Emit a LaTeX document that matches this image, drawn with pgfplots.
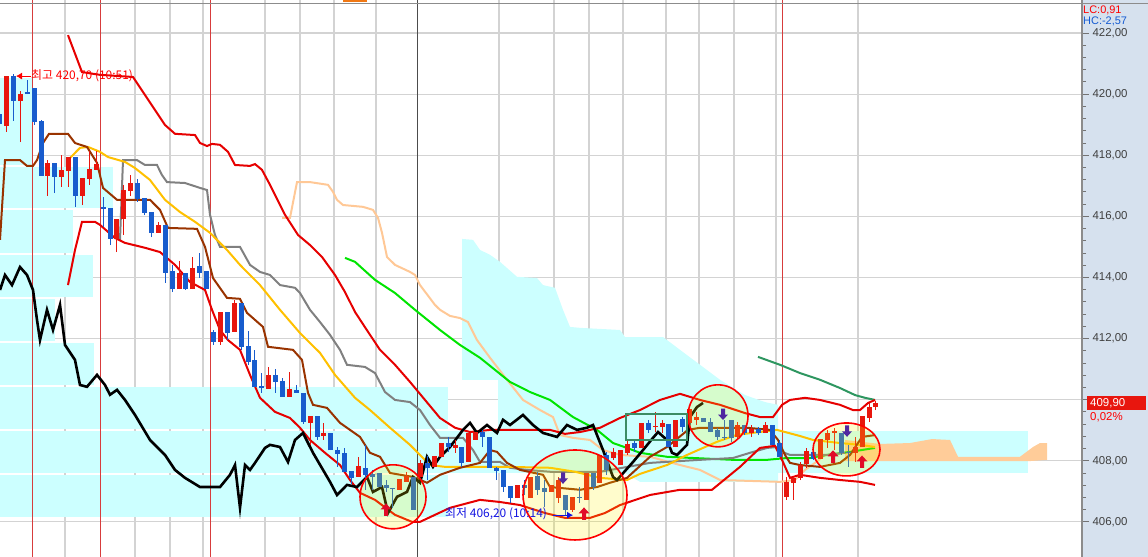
\documentclass[border=0pt]{standalone}
\usepackage{pgfplots}
\pgfplotsset{compat=1.18}
\usepackage{pgfplotstable}
\usepackage{fontspec}
\setmainfont{Liberation Sans}
\newfontfamily\kr{Noto Sans CJK KR}
\usetikzlibrary{arrows.meta}

\definecolor{candr}{RGB}{232,22,14}
\definecolor{candb}{RGB}{24,92,205}
\definecolor{bbred}{RGB}{230,0,0}
\definecolor{brownl}{RGB}{153,51,0}
\definecolor{yel}{RGB}{255,192,0}
\definecolor{grayl}{RGB}{128,128,128}
\definecolor{grn}{RGB}{0,228,0}
\definecolor{peach}{RGB}{255,200,150}
\definecolor{dkgreen}{RGB}{46,150,96}
\definecolor{cyanbox}{RGB}{204,255,255}
\definecolor{cloudor}{RGB}{255,204,153}
\definecolor{panel}{RGB}{214,225,238}
\definecolor{gridc}{RGB}{211,211,211}
\definecolor{purp}{RGB}{80,40,160}
\definecolor{boxg}{RGB}{60,140,100}
\definecolor{vred}{RGB}{215,60,60}
\definecolor{arrred}{RGB}{225,10,40}
\definecolor{lowblue}{RGB}{20,20,225}
\definecolor{hcblue}{RGB}{20,90,210}
\definecolor{topor}{RGB}{240,120,20}

\pgfdeclareplotmark{uparr}{%
  \pgfpathmoveto{\pgfpoint{0bp}{6.5bp}}%
  \pgfpathlineto{\pgfpoint{5.5bp}{0.5bp}}%
  \pgfpathlineto{\pgfpoint{2bp}{0.5bp}}%
  \pgfpathlineto{\pgfpoint{2bp}{-6bp}}%
  \pgfpathlineto{\pgfpoint{-2bp}{-6bp}}%
  \pgfpathlineto{\pgfpoint{-2bp}{0.5bp}}%
  \pgfpathlineto{\pgfpoint{-5.5bp}{0.5bp}}%
  \pgfpathclose\pgfusepathqfill}
\pgfdeclareplotmark{dnarr}{%
  \pgfpathmoveto{\pgfpoint{0bp}{-6bp}}%
  \pgfpathlineto{\pgfpoint{5bp}{-0.5bp}}%
  \pgfpathlineto{\pgfpoint{2bp}{-0.5bp}}%
  \pgfpathlineto{\pgfpoint{2bp}{5.5bp}}%
  \pgfpathlineto{\pgfpoint{-2bp}{5.5bp}}%
  \pgfpathlineto{\pgfpoint{-2bp}{-0.5bp}}%
  \pgfpathlineto{\pgfpoint{-5bp}{-0.5bp}}%
  \pgfpathclose\pgfusepathqfill}

% up (red) candles: k open high low close
\pgfplotstableread{
k o h l c
1 418.96 420.59 418.76 420.59
3 419.77 420.10 418.43 420.00
7 417.32 417.84 416.67 417.75
9 417.29 418.01 416.96 417.52
10 417.48 417.94 416.96 417.94
12 416.67 417.26 416.37 417.26
13 417.22 418.14 417.03 417.55
14 417.52 418.14 417.52 417.71
17 415.26 415.91 414.83 415.91
18 415.91 417.03 415.39 416.86
19 416.83 417.35 416.67 417.09
23 415.46 415.82 415.46 415.72
26 413.62 414.54 413.62 414.15
28 413.62 414.67 413.62 414.31
32 411.89 412.87 411.79 412.87
34 412.22 413.26 412.22 413.17
39 410.35 411.07 410.35 410.81
42 410.09 410.91 410.09 410.35
45 409.24 409.47 408.52 409.47
47 408.81 409.24 408.68 408.91
52 407.47 408.13 407.47 407.83
58 407.05 407.41 407.05 407.41
59 407.31 407.63 407.31 407.50
61 407.47 408.03 407.47 407.93
63 407.80 408.16 407.80 408.16
64 408.13 408.58 408.13 408.58
66 408.42 408.68 408.26 408.52
68 407.96 408.91 407.96 408.91
69 408.68 408.94 408.68 408.94
75 406.78 407.21 406.78 407.21
77 406.78 407.47 406.78 407.47
80 406.98 407.21 406.98 407.21
81 406.78 407.47 406.62 407.37
83 406.39 406.82 406.33 406.82
85 406.72 407.60 406.72 407.60
87 407.28 408.19 407.28 408.19
89 408.09 408.42 408.03 408.29
90 407.86 408.35 407.86 408.35
91 408.26 408.68 408.20 408.55
93 408.42 409.24 408.42 409.24
95 409.11 409.60 408.94 409.14
96 409.11 409.34 408.91 409.24
98 408.45 409.34 408.45 409.34
100 409.24 409.70 409.24 409.70
101 409.34 409.60 409.17 409.44
107 408.78 409.27 408.68 409.17
109 408.91 409.17 408.78 409.04
111 408.91 409.27 408.91 409.17
114 406.82 407.47 406.72 407.31
115 407.28 407.47 406.72 407.44
116 407.44 407.96 407.37 407.86
117 407.90 408.42 407.77 408.32
119 408.06 408.71 408.06 408.71
120 408.68 409.01 408.42 408.91
121 408.91 409.08 408.35 408.98
124 408.26 408.78 407.96 408.45
125 408.45 409.47 408.45 409.47
126 409.40 409.89 409.27 409.76
127 409.76 409.96 409.66 409.89
}\upc

% down (blue) candles: k open high low close
\pgfplotstableread{
k o h l c
0 419.35 419.65 417.68 419.03
2 420.59 420.66 419.12 419.77
4 420.07 420.46 420.00 420.00
5 420.20 420.20 418.99 419.09
6 419.12 419.15 417.32 417.32
8 417.75 417.75 416.76 417.29
11 417.94 417.94 416.31 416.67
15 416.31 416.63 415.65 416.24
16 416.27 416.27 415.06 415.26
20 417.09 417.22 416.47 416.57
21 416.60 416.60 416.04 416.11
22 416.14 416.14 415.32 415.46
24 415.72 415.72 413.82 414.15
25 414.21 414.41 413.52 413.62
27 414.15 414.15 413.59 413.62
29 414.38 414.80 413.98 414.15
30 414.21 414.21 413.62 413.62
31 412.22 412.28 411.79 411.89
33 412.87 412.87 411.95 412.18
35 413.17 413.17 411.63 411.72
36 411.76 412.25 411.14 411.23
37 411.30 411.63 410.42 410.42
38 410.45 410.87 410.22 410.38
40 410.81 411.01 410.22 410.58
41 410.61 410.71 410.09 410.09
43 410.32 410.48 410.22 410.22
44 410.22 410.22 409.21 409.27
46 409.47 409.47 408.68 408.78
48 408.91 408.91 408.35 408.35
49 408.35 408.45 407.80 408.22
50 408.26 408.42 407.64 407.64
51 407.67 407.67 407.24 407.44
53 407.77 408.52 407.05 407.54
54 407.57 407.70 407.05 407.47
55 407.60 407.60 407.14 407.14
56 407.21 407.37 406.98 407.11
57 407.11 407.11 406.46 407.08
60 407.47 407.47 406.39 406.39
62 407.93 408.16 407.37 407.77
65 408.58 408.78 408.29 408.45
67 408.45 408.45 407.80 407.93
70 408.94 409.01 408.45 408.78
71 408.78 408.78 407.77 407.77
72 407.77 407.80 407.37 407.67
73 407.70 407.70 406.98 407.14
74 407.18 407.18 406.62 406.78
76 407.21 407.37 406.88 407.11
78 407.50 407.63 406.88 407.05
79 407.11 407.37 406.49 406.98
82 406.88 406.88 406.20 406.39
84 406.82 407.14 406.62 406.78
86 407.60 407.60 407.05 407.14
88 408.19 408.29 407.54 407.70
92 408.58 408.68 408.29 408.42
94 409.24 409.34 408.91 409.01
97 409.21 409.21 408.45 408.45
99 409.37 409.44 408.94 409.11
102 409.40 409.40 409.27 409.27
103 409.27 409.40 408.94 408.94
104 409.01 409.08 408.68 408.78
105 408.78 409.34 408.68 408.75
106 409.34 409.34 408.62 408.75
108 409.17 409.17 408.85 408.91
110 409.04 409.10 408.85 408.91
112 409.17 409.17 408.52 408.52
113 408.58 408.68 408.13 408.13
118 408.29 408.35 408.03 408.06
122 408.91 408.91 408.19 408.26
123 408.29 408.52 407.80 408.26
}\dnc

\begin{document}
\begin{tikzpicture}
\fill[panel] (1082bp,0) rectangle (1148bp,557bp);
\begin{axis}[
  at={(0,0)}, anchor=south west, scale only axis,
  width=1082bp, height=557bp,
  xmin=0, xmax=1082, ymin=404.85, ymax=423.08,
  axis line style={draw=none},
  xtick={65,135,170,203,265,300,334,376,499,554,589,623,666,699,734,776,858},
  xticklabels={}, x tick style={draw=none},
  xmajorgrids, ymajorgrids,
  grid style={gridc, line width=1.1bp},
  ytick={406,408,...,422},
  yticklabels={{406,00},{408,00},{},{412,00},{414,00},{416,00},{418,00},{420,00},{422,00}},
  ytick pos=right, yticklabel pos=right,
  tick align=outside,
  minor y tick num=4,
  major tick length=7bp, minor tick length=4bp,
  y tick style={black!55, line width=0.8bp},
  yticklabel style={font=\fontsize{11.5}{12}\selectfont, text=black!75},
  clip=true,
]
% volume-profile style boxes
\addplot[fill=cyanbox, draw=none, forget plot] coordinates {(0,420.53) (33,420.53) (33,417.68) (0,417.68)} -- cycle;
\addplot[fill=cyanbox, draw=none, forget plot] coordinates {(0,417.62) (113,417.62) (113,416.27) (0,416.27)} -- cycle;
\addplot[fill=cyanbox, draw=none, forget plot] coordinates {(0,416.21) (73,416.21) (73,414.80) (0,414.80)} -- cycle;
\addplot[fill=cyanbox, draw=none, forget plot] coordinates {(0,414.74) (93,414.74) (93,413.36) (0,413.36)} -- cycle;
\addplot[fill=cyanbox, draw=none, forget plot] coordinates {(0,413.30) (55,413.30) (55,411.92) (0,411.92)} -- cycle;
\addplot[fill=cyanbox, draw=none, forget plot] coordinates {(0,411.86) (94,411.86) (94,410.48) (0,410.48)} -- cycle;
\addplot[fill=cyanbox, draw=none, forget plot] coordinates {(0,410.42) (448,410.42) (448,409.04) (0,409.04)} -- cycle;
\addplot[fill=cyanbox, draw=none, forget plot] coordinates {(0,408.98) (1028,408.98) (1028,407.60) (0,407.60)} -- cycle;
\addplot[fill=cyanbox, draw=none, forget plot] coordinates {(0,407.54) (448,407.54) (448,406.16) (0,406.16)} -- cycle;
% ichimoku cloud (cyan)
\addplot[fill=cyanbox, draw=none, forget plot] coordinates {
(462,410.65) (462,415.26) (473,415.23) (480,414.90) (490,414.74) (500,414.51) (517,414.02)
(537,413.98) (543,413.75) (555,413.66) (563,412.94) (570,412.38) (580,412.35) (620,412.28)
(625,412.05) (663,412.05) (680,411.63) (700,411.14) (720,410.65) (745,410.15) (765,409.92) (778,409.83)
(778,407.31) (640,407.31) (625,407.60) (498,407.60) (498,410.65)} -- cycle;
% ichimoku cloud (orange)
\addplot[fill=cloudor, draw=none, forget plot] coordinates {
(845,408.68) (880,408.55) (910,408.58) (932,408.71) (950,408.68) (958,408.13) (1020,408.13)
(1033,408.45) (1040,408.58) (1047,408.58) (1047,408.03) (1030,407.99) (845,407.99)} -- cycle;
% vertical session lines
\addplot[vred, line width=0.9bp, forget plot] coordinates {(32,404.85) (32,423.08)};
\addplot[vred, line width=0.9bp, forget plot] coordinates {(100,404.85) (100,423.08)};
\addplot[vred, line width=0.9bp, forget plot] coordinates {(210,404.85) (210,423.08)};
\addplot[black!70, line width=0.9bp, forget plot] coordinates {(417,404.85) (417,423.08)};
\addplot[vred, line width=0.9bp, forget plot] coordinates {(782,404.85) (782,423.08)};
\addplot[black!45, line width=1bp, forget plot] coordinates {(0,422.95) (1082,422.95)};
\addplot[topor, line width=1.5bp, forget plot] coordinates {(343,423.04) (367,423.04)};
% peach
\addplot[peach, line width=2bp] coordinates {
(282,415.95)(290,415.95)(297,417.12)(310,417.12)(328,417.03)(333,416.80)(337,416.54)(343,416.37)
(363,416.31)(373,416.21)(378,415.95)(382,415.46)(387,414.67)(395,414.41)(410,414.18)(415,414.08)
(420,413.75)(435,413.10)(440,412.94)(450,412.74)(460,412.67)(468,412.54)(477,411.95)(490,411.37)
(507,410.65)(523,409.99)(540,409.66)(553,409.43)(560,408.84)(573,408.75)(590,408.68)(603,408.35)
(620,408.19)(650,408.13)(680,407.86)(700,407.70)(720,407.37)(780,407.31)(795,407.37)(805,407.70)
(815,407.93)(825,408.19)};
% green
\addplot[grn, line width=2bp] coordinates {
(345,414.64)(355,414.51)(375,413.92)(395,413.49)(415,412.94)(440,412.28)(460,411.79)(480,411.37)
(510,410.58)(530,410.25)(550,409.99)(573,409.43)(597,409.01)(613,408.58)(627,408.42)(640,408.26)
(667,408.13)(733,408.03)(767,408.03)(787,408.09)(810,408.09)(827,408.19)(850,408.29)(875,408.42)};
% dark green
\addplot[dkgreen, line width=2bp] coordinates {
(758,411.40)(780,411.14)(800,410.87)(820,410.65)(840,410.38)(855,410.15)(865,410.06)(875,409.99)};
% gray
\addplot[grayl, line width=2bp] coordinates {
(120,415.23)(123,417.84)(137,417.84)(145,417.68)(157,417.68)(162,417.35)(167,417.12)(185,417.09)
(200,416.93)(207,416.86)(210,416.05)(215,415.39)(220,415.00)(240,415.00)(250,414.41)(260,414.18)
(270,414.08)(280,413.75)(295,413.66)(300,413.49)(310,412.94)(320,412.54)(330,412.12)(340,411.63)
(347,411.14)(365,411.07)(375,410.87)(385,410.25)(395,409.99)(410,409.92)(420,409.66)(430,409.17)
(440,408.75)(463,408.75)(473,408.35)(480,407.96)(500,407.96)(510,407.77)(527,407.70)(550,407.64)
(600,407.64)(650,407.93)(700,408.03)(733,408.09)(750,408.26)(767,408.42)(777,408.45)(782,408.29)
(790,408.19)(827,408.19)(845,408.26)};
% yellow
\addplot[yel, line width=2bp] coordinates {
(70,417.91)(80,418.24)(88,418.27)(100,418.11)(108,417.94)(125,417.78)(135,417.58)(150,417.19)
(165,416.54)(180,416.14)(195,415.82)(210,415.46)(227,414.90)(240,414.41)(260,413.75)(280,412.94)
(300,412.18)(320,411.53)(335,410.81)(355,410.06)(370,409.66)(390,409.08)(410,408.52)(430,407.86)
(445,407.80)(507,407.80)(550,407.77)(575,407.64)(600,407.44)(627,407.37)(640,407.57)(667,407.86)
(687,408.19)(703,408.42)(717,408.62)(737,408.85)(777,409.01)(800,408.81)(813,408.68)(840,408.58)
(860,408.52)(875,408.45)};
% brown
\addplot[brownl, line width=2bp] coordinates {
(0,415.23)(5,417.84)(20,417.84)(27,417.65)(33,417.65)(37,417.84)(43,418.40)(49,418.70)(68,418.70)
(75,418.40)(87,418.27)(97,417.75)(103,416.93)(117,416.54)(150,416.54)(160,416.21)(168,415.62)
(197,415.59)(205,415.00)(213,413.98)(227,413.33)(240,413.30)(247,412.84)(263,412.38)(268,411.73)
(293,411.63)(302,411.30)(308,410.22)(313,409.83)(327,409.73)(340,409.24)(350,409.01)(360,408.78)
(370,408.26)(380,408.13)(390,407.60)(413,407.47)(427,407.28)(440,407.54)(460,407.77)(480,407.93)
(490,408.35)(497,408.29)(507,407.93)(520,407.70)(543,407.54)(550,407.14)(580,407.05)(597,407.14)
(610,407.28)(627,407.44)(650,408.13)(667,408.45)(688,409.01)(700,409.08)(747,409.08)(770,409.01)
(778,408.68)(785,408.19)(790,407.93)(800,407.86)(820,407.80)(840,407.93)(850,408.19)(862,408.78)
(875,408.84)};
% bollinger upper
\addplot[bbred, line width=2bp] coordinates {
(68,421.93)(82,420.72)(100,420.63)(133,420.56)(145,419.97)(165,418.99)(175,418.70)(195,418.66)
(200,418.40)(207,418.30)(212,418.37)(220,418.34)(228,418.11)(235,417.68)(250,417.65)(255,417.71)
(262,417.52)(270,417.03)(285,416.05)(298,415.39)(310,415.06)(322,414.67)(335,414.08)(345,413.52)
(355,412.87)(368,412.22)(380,411.63)(395,411.14)(410,410.58)(425,409.99)(440,409.40)(455,409.08)
(470,408.94)(490,409.01)(550,409.01)(565,408.88)(580,408.94)(600,409.08)(620,409.40)(640,409.66)
(660,409.99)(680,410.19)(700,409.99)(720,409.83)(745,409.56)(760,409.43)(773,409.43)(782,409.83)
(790,409.99)(805,410.06)(820,409.99)(840,409.83)(853,409.66)(860,409.66)(868,409.89)(875,409.99)};
% bollinger lower
\addplot[bbred, line width=2bp] coordinates {
(68,413.75)(75,414.90)(82,415.82)(95,415.82)(100,415.72)(115,415.29)(125,415.13)(145,414.97)
(160,414.83)(175,414.41)(190,413.85)(205,413.59)(212,412.94)(220,412.28)(228,411.95)(240,411.63)
(250,410.81)(260,410.06)(275,409.60)(290,409.40)(300,409.08)(310,408.68)(325,408.26)(340,407.86)
(350,407.37)(360,406.95)(375,406.72)(395,406.23)(412,406.00)(420,406.00)(435,406.23)(450,406.46)
(480,406.72)(500,406.65)(520,406.55)(545,406.29)(565,406.13)(590,406.13)(605,406.29)(620,406.55)
(650,406.88)(680,407.05)(712,407.05)(740,407.80)(760,408.42)(775,408.49)(782,408.03)(790,407.44)
(800,407.54)(820,407.44)(840,407.37)(860,407.31)(875,407.21)};
% black lagging line
\addplot[black, line width=2.6bp] coordinates {
(0,413.59)(5,414.08)(12,413.75)(20,414.34)(27,414.08)(33,413.59)(37,412.61)(40,411.95)(47,412.94)
(53,412.28)(60,413.10)(65,411.79)(75,411.30)(80,410.48)(87,410.42)(97,410.81)(105,410.48)
(110,410.16)(117,410.32)(125,409.99)(135,409.50)(150,408.68)(165,408.19)(175,407.70)(185,407.44)
(200,407.14)(220,407.14)(230,407.54)(235,407.86)(240,406.46)(245,407.86)(250,407.70)(255,407.93)
(265,408.42)(270,408.52)(280,408.45)(288,407.96)(295,408.68)(303,408.91)(313,408.26)(330,407.31)
(337,406.88)(347,407.21)(357,407.14)(367,407.47)(373,406.98)(382,407.14)(388,406.29)(397,406.82)
(407,406.98)(413,407.47)(420,407.28)(427,408.13)(433,407.80)(440,408.13)(447,408.35)(450,408.45)
(463,409.01)(470,409.24)(477,408.91)(487,409.17)(497,408.91)(503,409.34)(510,409.17)(523,409.50)
(533,409.17)(543,408.91)(557,408.78)(567,409.17)(577,409.01)(587,409.08)(593,409.17)(603,408.35)
(613,407.47)(617,407.37)(633,407.96)(643,408.35)(652,408.71)(658,408.94)(667,408.68)(672,408.26)
(677,408.19)(687,408.52)(690,409.43)(697,409.76)(703,409.89)};
% candles: wicks
\addplot[draw=none, mark=none, forget plot, error bars/.cd, y dir=plus, y explicit, error mark=none,
  error bar style={draw=candr, line width=1bp}]
  table[x expr={-0.4+6.9*\thisrow{k}}, y=l, y error plus expr={\thisrow{h}-\thisrow{l}}] {\upc};
\addplot[draw=none, mark=none, forget plot, error bars/.cd, y dir=plus, y explicit, error mark=none,
  error bar style={draw=candb, line width=1bp}]
  table[x expr={-0.4+6.9*\thisrow{k}}, y=l, y error plus expr={\thisrow{h}-\thisrow{l}}] {\dnc};
% candles: bodies
\addplot[draw=none, mark=none, forget plot, error bars/.cd, y dir=plus, y explicit, error mark=none,
  error bar style={draw=candr, line width=5bp}]
  table[x expr={-0.4+6.9*\thisrow{k}}, y=o, y error plus expr={max(\thisrow{c}-\thisrow{o},0.04)}] {\upc};
\addplot[draw=none, mark=none, forget plot, error bars/.cd, y dir=plus, y explicit, error mark=none,
  error bar style={draw=candb, line width=5bp}]
  table[x expr={-0.4+6.9*\thisrow{k}}, y=c, y error plus expr={max(\thisrow{o}-\thisrow{c},0.04)}] {\dnc};
% highlight ellipses
\draw[red, line width=1.6bp, fill=yellow, fill opacity=0.2] (axis cs:393,406.82) ellipse [x radius=33bp, y radius=32bp];
\draw[red, line width=1.6bp, fill=yellow, fill opacity=0.2] (axis cs:575,406.88) ellipse [x radius=52bp, y radius=45bp];
\draw[red, line width=1.6bp, fill=yellow, fill opacity=0.2] (axis cs:718,409.47) ellipse [x radius=30bp, y radius=31bp];
\draw[red, line width=1.6bp, fill=yellow, fill opacity=0.2] (axis cs:846.5,408.37) ellipse [x radius=33.5bp, y radius=26.5bp];
% signal arrows
\addplot[only marks, mark=uparr, color=arrred] coordinates {(386,406.39) (584,406.26) (833,408.13) (862,407.96)};
\addplot[only marks, mark=dnarr, color=purp] coordinates {(563,407.44) (723,409.53) (847,408.98)};
% box
\draw[boxg, line width=2bp] (axis cs:626,409.53) rectangle (axis cs:687,408.68);
% annotations
\draw[red, line width=0.8bp, -{Latex[length=6bp,width=7bp]}] (axis cs:31,420.59) -- (axis cs:16,420.59);
\node[anchor=west, text=red, inner sep=0pt, font=\kr\fontsize{12}{12}\selectfont] at (axis cs:31,420.59) {최고 420,70 (10:51)};
\node[anchor=west, text=lowblue, inner sep=0pt, font=\kr\fontsize{12}{12}\selectfont] at (axis cs:445,406.26) {최저 406,20 (10:14)};
\draw[lowblue, line width=0.8bp, -{Latex[length=6bp,width=7bp]}] (axis cs:553,406.22) -- (axis cs:573,406.22);
\end{axis}
\draw[black!45, line width=1.2bp] (1082bp,0) -- (1082bp,557bp);
\draw[black!45, line width=1bp] (1082bp,553bp) -- (1148bp,553bp);
\node[anchor=west, text=red, inner sep=0pt, font=\fontsize{11}{11}\selectfont] at (1083bp,546.5bp) {LC:0,91};
\node[anchor=west, text=hcblue, inner sep=0pt, font=\fontsize{11}{11}\selectfont] at (1083bp,535.5bp) {HC:-2,57};
\fill[candr] (1087bp,147bp) rectangle (1146bp,161bp);
\node[anchor=west, text=white, inner sep=0pt, font=\fontsize{11.5}{12}\selectfont] at (1090bp,154bp) {409,90};
\node[anchor=west, text=red, inner sep=0pt, font=\fontsize{11.5}{12}\selectfont] at (1090bp,140bp) {0,02\%};
\pgfresetboundingbox
\path[use as bounding box] (0,0) rectangle (1148bp,557bp);
\end{tikzpicture}
\end{document}
